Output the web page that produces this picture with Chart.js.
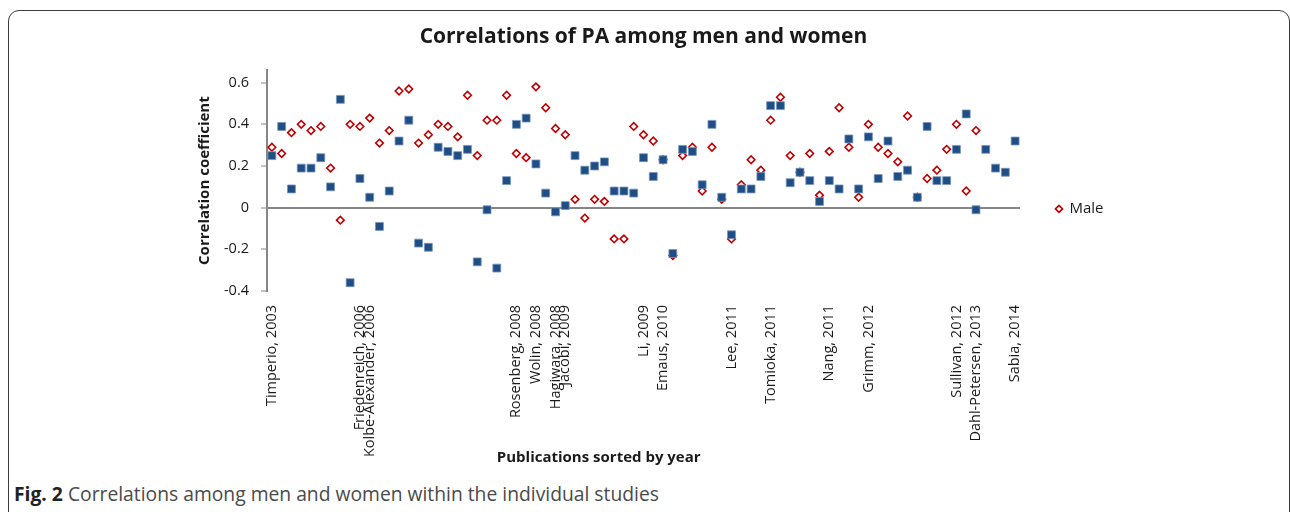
<!DOCTYPE html>
<html>
<head>
<meta charset="utf-8">
<script src="https://cdn.jsdelivr.net/npm/chart.js@4/dist/chart.umd.min.js"></script>
<style>
  body { margin: 0; background: #fff; width: 1290px; height: 512px; overflow: hidden; position: relative; font-family: "Open Sans", sans-serif; }
  #frame { position: absolute; left: 8px; top: 10px; width: 1280px; height: 530px; border: 1px solid #3c3c3c; border-radius: 11px; }
  #c { position: absolute; left: 0; top: 0; }
  #caption { position: absolute; left: 14px; top: 482px; font-size: 19.3px; line-height: 24px; color: #4a4a4a; }
  #caption b { color: #222; }
</style>
</head>
<body>
<div id="frame"></div>
<canvas id="c" width="1290" height="480"></canvas>
<div id="caption"><b>Fig. 2</b> Correlations among men and women within the individual studies</div>
<script>
// one label per study, only some are printed on the axis
const etiquetas = ['Timperio, 2003', '', '', '', '', '', '', '', '', 'Friedenreich, 2006',
  'Kolbe-Alexander, 2006', '', '', '', '', '', '', '', '', '',
  '', '', '', '', '', 'Rosenberg, 2008', '', 'Wolin, 2008', '', 'Hagiwara, 2008',
  'Jacobi, 2009', '', '', '', '', '', '', '', 'Li, 2009', '',
  'Emaus, 2010', '', '', '', '', '', '', 'Lee, 2011', '', '',
  '', 'Tomioka, 2011', '', '', '', '', '', 'Nang, 2011', '', '',
  '', 'Grimm, 2012', '', '', '', '', '', '', '', '',
  'Sullivan, 2012', '', 'Dahl-Petersen, 2013', '', '', '', 'Sabia, 2014']

const mujeres = [0.25, 0.39, 0.09, 0.19, 0.19, 0.24, 0.10, 0.52, -0.36, 0.14,
  0.05, -0.09, 0.08, 0.32, 0.42, -0.17, -0.19, 0.29, 0.27, 0.25,
  0.28, -0.26, -0.01, -0.29, 0.13, 0.40, 0.43, 0.21, 0.07, -0.02,
  0.01, 0.25, 0.18, 0.20, 0.22, 0.08, 0.08, 0.07, 0.24, 0.15,
  0.23, -0.22, 0.28, 0.27, 0.11, 0.40, 0.05, -0.13, 0.09, 0.09,
  0.15, 0.49, 0.49, 0.12, 0.17, 0.13, 0.03, 0.13, 0.09, 0.33,
  0.09, 0.34, 0.14, 0.32, 0.15, 0.18, 0.05, 0.39, 0.13, 0.13,
  0.28, 0.45, -0.01, 0.28, 0.19, 0.17, 0.32]

const hombres = [0.29, 0.26, 0.36, 0.40, 0.37, 0.39, 0.19, -0.06, 0.40, 0.39,
  0.43, 0.31, 0.37, 0.56, 0.57, 0.31, 0.35, 0.40, 0.39, 0.34,
  0.54, 0.25, 0.42, 0.42, 0.54, 0.26, 0.24, 0.58, 0.48, 0.38,
  0.35, 0.04, -0.05, 0.04, 0.03, -0.15, -0.15, 0.39, 0.35, 0.32,
  0.23, -0.23, 0.25, 0.29, 0.08, 0.29, 0.04, -0.15, 0.11, 0.23,
  0.18, 0.42, 0.53, 0.25, 0.17, 0.26, 0.06, 0.27, 0.48, 0.29,
  0.05, 0.40, 0.29, 0.26, 0.22, 0.44, 0.05, 0.14, 0.18, 0.28,
  0.40, 0.08, 0.37, null, null, null, null]

const ticksY = [-0.4, -0.2, 0, 0.2, 0.4, 0.6]

const gris = '#868686'
const texto = '#1a1a1a'

const $grafica = document.querySelector('#c')
const chart = new Chart($grafica, {
  type: 'line',
  data: {
    labels: etiquetas,
    datasets: [{
      label: 'Female',
      data: mujeres,
      showLine: false,
      pointStyle: 'rect',
      pointRadius: 5.6,
      pointBackgroundColor: '#1f4e85',
      pointBorderColor: 'rgba(120,150,190,0.8)',
      pointBorderWidth: 1
    }, {
      label: 'Male',
      data: hombres,
      showLine: false,
      pointStyle: 'rectRot',
      pointRadius: 3.8,
      pointBackgroundColor: '#ffffff',
      pointBorderColor: '#c00000',
      pointBorderWidth: 1.6
    }]
  },
  options: {
    responsive: false,
    animation: false,
    layout: { padding: { left: 14, right: 150, top: 0, bottom: 9 } },
    plugins: {
      tooltip: { enabled: false },
      title: {
        display: true,
        fullSize: false,
        text: 'Correlations of PA among men and women',
        color: texto,
        font: { family: 'Open Sans', size: 21, weight: 'bold' },
        padding: { top: 24, bottom: 21 }
      },
      legend: {
        position: 'right',
        align: 'start',
        title: { display: true, text: ' ', font: { size: 12 }, padding: { top: 0, bottom: 151 } },
        labels: {
          filter: item => item.text === 'Male',
          usePointStyle: true,
          boxWidth: 6,
          boxHeight: 5,
          padding: 36,
          color: texto,
          font: { family: 'Open Sans', size: 15 }
        }
      }
    },
    scales: {
      x: {
        offset: true,
        grid: { display: false, drawTicks: false },
        border: { display: false },
        ticks: {
          autoSkip: false,
          minRotation: 90,
          maxRotation: 90,
          padding: 14,
          color: texto,
          font: { family: 'Open Sans', size: 14.5 }
        },
        title: {
          display: true,
          text: 'Publications sorted by year' + '\u00A0'.repeat(23),
          color: texto,
          font: { family: 'Open Sans', size: 15, weight: 'bold' },
          padding: { top: 0, bottom: 4 }
        },
        afterFit: scale => { scale.height = 180 }
      },
      y: {
        min: -0.4,
        max: 0.66,
        afterBuildTicks: scale => { scale.ticks = ticksY.map(v => ({ value: v })) },
        grid: {
          color: ctx => ctx.tick && ctx.tick.value === 0 ? gris : 'rgba(0,0,0,0)',
          lineWidth: 2,
          tickColor: gris,
          tickLength: 6,
          tickWidth: 1
        },
        border: { display: true, color: gris, width: 2 },
        ticks: {
          padding: 12,
          color: texto,
          font: { family: 'Open Sans', size: 14.5 },
          callback: v => String(Math.round(v * 10) / 10)
        },
        title: {
          display: true,
          text: 'Correlation coefficient',
          color: texto,
          font: { family: 'Open Sans', size: 15, weight: 'bold' },
          padding: { top: 182, bottom: 0 }
        },
        afterFit: scale => { scale.width = 253 }
      }
    }
  }
})

// fit the plot's right edge next to the legend
chart.options.layout.padding.right += chart.chartArea.right - 1020
chart.update('none')
</script>
</body>
</html>
